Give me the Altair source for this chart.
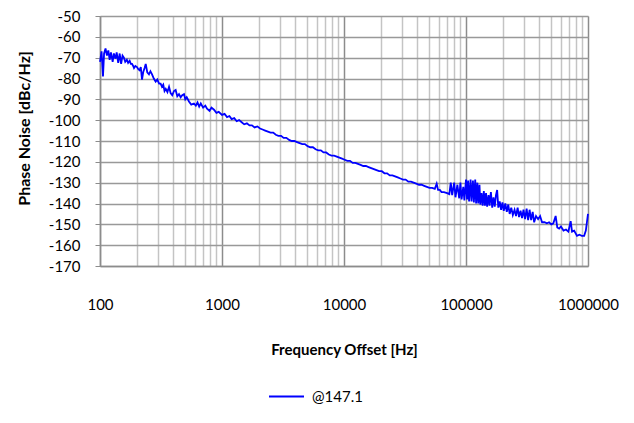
import altair as alt
import pandas as pd

freq_hz = [
    100, 103, 105.8, 108, 111, 114, 117, 120, 123, 127, 130, 134, 137, 141, 145, 149, 153, 157,
    161, 166, 170, 175, 179, 183, 187, 190, 195, 201, 206, 211, 216, 221, 226, 232, 237, 244,
    252, 259, 267, 276, 286, 295, 305, 314, 322, 330, 338, 346, 357, 368, 379, 391, 404, 417,
    430, 444, 458, 472, 488, 500, 514, 536, 560, 589, 610, 630, 650, 670, 700, 730, 754, 790,
    820, 860, 900, 940, 1000,
    1050, 1100, 1150, 1200, 1260, 1320, 1380, 1450, 1520, 1600, 1680, 1760, 1850, 1950, 2050,
    2150, 2260, 2380, 2500, 2630, 2760, 2900, 3050, 3200, 3370, 3550, 3730, 3920, 4120, 4330,
    4550, 4780, 5030, 5290, 5560, 5850, 6150, 6460, 6790, 7140, 7510, 7890, 8300, 8720, 9170,
    9640, 10130, 10650, 11200, 11780, 12380, 13020, 13680, 14380, 15120, 15900, 16710, 17570,
    18470, 19420, 20420, 21460, 22560, 23720, 24940, 26220, 27560, 28980, 30460, 32020, 33670,
    35390, 37210, 39120, 41120, 43230, 45450, 47780, 50230, 52810, 55500, 57500, 59000,
    61000, 63000, 66000, 70000, 73000, 75000, 77000, 80000, 82000, 85000, 88000, 90000, 92000,
    95000, 97000, 100000, 102000, 104000, 106000, 109000, 111000, 114000, 116000, 119000,
    121000, 124000, 126000, 129000, 131000, 134000, 137000, 140000, 143000, 146000, 149000,
    153000, 156000, 160000, 164000, 168000, 172000, 176000, 180000, 184000, 189000, 194000,
    199000, 204000, 210000, 216000, 222000, 228000, 235000, 242000, 250000, 257000, 265000,
    272000, 280000, 288000, 296000, 305000, 314000, 323000, 332000, 342000, 352000, 362000,
    375000, 390000, 405000, 420000, 440000, 460000, 480000, 500000, 520000, 543000, 560000,
    580000, 600000, 630000, 660000, 690000, 721000, 740000, 770000, 812000, 850000, 890000,
    930000, 960000, 1000000,
]

phase_noise_dbc = [
    -72, -67, -79, -68, -65.6, -69, -66.5, -71, -67.5, -72, -68, -70.5, -67.5, -72.5, -68, -73, -69, -70,
    -72, -71, -72.5, -71.5, -73, -73, -74, -75, -74, -74.5, -75.5, -76, -74.5, -80.5, -77, -75, -73, -77,
    -78, -76.5, -78, -80, -81.5, -80.5, -82.5, -82.5, -84, -83, -86, -85, -86.5, -84, -87, -88, -86, -85.5,
    -88.5, -87.5, -89, -88, -87.5, -90, -89, -91, -92.5, -92, -93, -91.5, -93.5, -92, -94, -93, -94.5, -95.5,
    -94, -95, -96.5, -96, -97.5,
    -97, -98.5, -98, -99.5, -99, -100.5, -100, -101, -102, -101.5, -102.5, -102.5, -103.5, -103, -104,
    -104.5, -105, -105.5, -106, -106, -107, -107.5, -107.5, -108.5, -108.5, -109.5, -110, -110, -110.5, -111,
    -111.5, -111.5, -112.5, -113, -113, -114, -114.5, -114.5, -115.5, -115.5, -116.5, -117, -117, -117.5, -118,
    -118.5, -119, -119.5, -119.5, -120.5, -120.5, -121, -121.5, -122, -122, -122.5, -123, -123.5,
    -124, -124.5, -124.5, -125.5, -125.5, -126.5, -126.5, -127, -127.5, -128, -128.5, -128.5, -129.5,
    -129.5, -130, -130.5, -131, -131, -131.5, -132, -132.5, -132.5, -133, -130.5, -133.5,
    -133.5, -134.5, -134.5, -135, -135.5, -130, -136, -130, -137, -131, -137.5, -130, -138,
    -132, -138.5, -128.5, -138, -129, -139, -128.5, -139, -129, -139.5, -128.5,
    -140, -130, -140, -131, -140.5, -135, -141, -134, -141, -135, -141.5,
    -136, -141, -134.5, -142, -137, -141.5, -136, -133.5, -142, -139, -143,
    -139.5, -143.5, -140, -144, -140.5, -145, -142, -145.5, -143, -146, -142,
    -146.5, -143.5, -147, -143, -147.5, -142.5, -148, -143, -148, -144, -149,
    -146, -147.5, -146, -149, -149, -149.5, -149, -150, -149.5, -146, -151.5,
    -152, -151, -153, -152.5, -153.5, -148.5, -153.5, -153, -155.5, -155, -155.5,
    -155.5, -153, -145,
]

series_name = ["@147.1"]

x_grid_values = [m * 10 ** e for e in range(2, 6) for m in range(1, 10)] + [1000000]
decades = [100, 1000, 10000, 100000, 1000000]
y_ticks = list(range(-170, -49, 10))

df = pd.DataFrame({
    "freq": freq_hz,
    "pn": phase_noise_dbc,
    "series": series_name * len(freq_hz),
})

FONT = "Lato"
decade_test = "indexof([100,1000,10000,100000,1000000], datum.value) >= 0"

chart = alt.Chart(df).mark_line(strokeWidth=1.8, interpolate="linear").encode(
    x=alt.X(
        "freq:Q",
        scale=alt.Scale(type="log", domain=[100, 1000000], nice=False),
        axis=alt.Axis(
            title="Frequency Offset [Hz]",
            values=x_grid_values,
            labelExpr=f"{decade_test} ? format(datum.value, 'd') : ''",
            tickSize=0,
            labelPadding=31,
            labelFont=FONT,
            labelFontSize=15,
            labelColor="#000000",
            labelFlush=False,
            labelOverlap=False,
            grid=True,
            gridColor=alt.condition(decade_test, alt.value("#8c8c8c"), alt.value("#c4c4c4")),
            gridWidth=1.5,
            domainColor="#8c8c8c",
            domainWidth=1.5,
            titleFont=FONT,
            titleFontSize=15,
            titleFontWeight="bold",
            titleColor="#000000",
            titleX=244,
            titleY=83,
            titleBaseline="middle",
            titleAlign="center",
        ),
    ),
    y=alt.Y(
        "pn:Q",
        scale=alt.Scale(domain=[-170, -50], nice=False, zero=False),
        axis=alt.Axis(
            title="Phase Noise [dBc/Hz]",
            values=y_ticks,
            labelExpr="toString(datum.value)",
            tickSize=5,
            tickColor="#8c8c8c",
            labelPadding=15,
            labelFont=FONT,
            labelFontSize=15,
            labelColor="#000000",
            labelFlush=False,
            labelOverlap=False,
            grid=True,
            gridColor="#999999",
            gridWidth=1.5,
            domainColor="#8c8c8c",
            domainWidth=1.5,
            titleFont=FONT,
            titleFontSize=16,
            titleFontWeight="bold",
            titleColor="#000000",
            titleAngle=270,
            titleX=-76,
            titleY=112,
            titleBaseline="middle",
            titleAlign="center",
        ),
    ),
    color=alt.Color(
        "series:N",
        scale=alt.Scale(range=["#0000ff"]),
        legend=alt.Legend(
            title=None,
            orient="none",
            legendX=168,
            legendY=362,
            padding=0,
            symbolType="stroke",
            symbolSize=1225,
            symbolStrokeWidth=2,
            labelFont=FONT,
            labelFontSize=15,
            labelColor="#000000",
            labelOffset=7,
        ),
    ),
).properties(
    width=488,
    height=250,
    padding={"left": 92, "top": 8, "right": 38, "bottom": 150},
    autosize="none",
).configure_view(
    stroke="#8c8c8c",
    strokeWidth=1.5,
).configure(background="#ffffff")

chart.save("out.html", embed_options={"renderer": "svg", "actions": False})
